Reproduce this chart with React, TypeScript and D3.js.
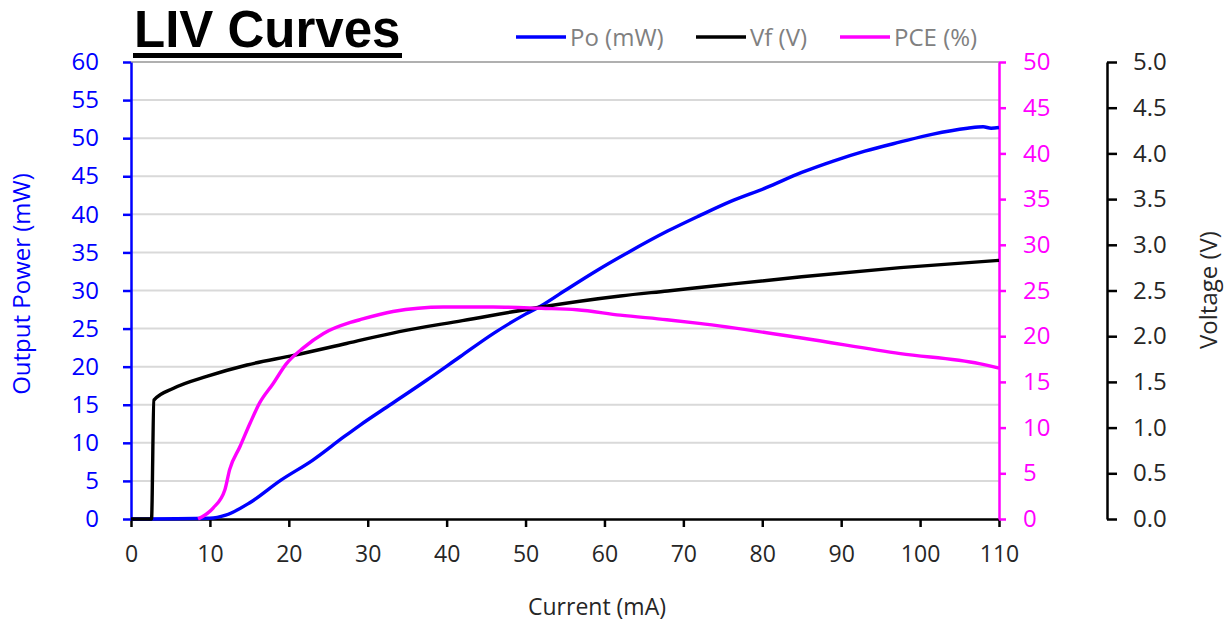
import { useEffect, useRef } from 'react';
import * as d3 from 'd3';

// Po (mW) vs current (mA)
const poCurrent = [0, 10, 12, 15, 19, 23, 27, 29, 33, 37.5, 41.7, 46, 50, 52, 55, 59, 63, 68, 72, 76, 80.5, 85, 89, 93, 97.5, 101.5, 106, 108, 109, 110];
const poValues = [0, 0.1, 0.5, 2.1, 5.1, 7.7, 10.8, 12.3, 15.1, 18.25, 21.3, 24.4, 26.9, 28.0, 30.0, 32.6, 35.0, 37.8, 39.8, 41.7, 43.5, 45.5, 47.0, 48.3, 49.5, 50.5, 51.3, 51.5, 51.3, 51.4];

// Vf (V) vs current (mA)
const vfCurrent = [0, 2.6, 2.9, 5.4, 9.6, 14.7, 20.6, 27.3, 34, 42, 52, 62, 68, 75, 85, 97.5, 110];
const vfValues = [0, 0, 1.3, 1.43, 1.56, 1.685, 1.79, 1.92, 2.05, 2.17, 2.32, 2.44, 2.495, 2.56, 2.65, 2.75, 2.83];

// PCE (%) vs current (mA)
const pceCurrent = [8.5, 10.4, 11.9, 12.5, 13.8, 15.1, 16.3, 18, 19.7, 21.8, 24.4, 27.8, 29, 33.2, 39.6, 45.9, 52, 56.5, 62, 67.9, 72, 85, 97.5, 107.5, 110];
const pceValues = [0, 1.2, 3.2, 5.4, 7.9, 10.5, 12.7, 14.8, 17, 18.7, 20.3, 21.5, 21.8, 22.7, 23.2, 23.2, 23.05, 22.9, 22.3, 21.8, 21.4, 19.8, 18.1, 17, 16.5];

const currentTicks = [0, 10, 20, 30, 40, 50, 60, 70, 80, 90, 100, 110];
const powerTicks = [0, 5, 10, 15, 20, 25, 30, 35, 40, 45, 50, 55, 60];
const pceTicks = [0, 5, 10, 15, 20, 25, 30, 35, 40, 45, 50];
const voltTicks = [0, 0.5, 1, 1.5, 2, 2.5, 3, 3.5, 4, 4.5, 5];

const legendLabels = ['Po (mW)', 'Vf (V)', 'PCE (%)'];
const legendColors = ['#0000ff', '#000000', '#ff00ff'];

const FONT = "'Open Sans', 'Liberation Sans', sans-serif";

const App = () => {
  const chartRef = useRef(null);

  useEffect(() => {
    d3.select(chartRef.current).selectAll('*').remove();

    const width = 1229;
    const height = 624;
    const plot = { left: 131, right: 999, top: 62, bottom: 519 };

    const svg = d3.select(chartRef.current)
      .append('svg')
      .attr('width', width)
      .attr('height', height)
      .style('position', 'absolute')
      .style('left', 0)
      .style('top', 0)
      .style('background', '#fff')
      .style('font-family', FONT);

    // scales
    const x = d3.scaleLinear().domain([0, 110]).range([plot.left, plot.right]);
    const yPo = d3.scaleLinear().domain([0, 60]).range([plot.bottom, plot.top]);
    const yPce = d3.scaleLinear().domain([0, 50]).range([plot.bottom, plot.top]);
    const yV = d3.scaleLinear().domain([0, 5]).range([plot.bottom, plot.top]);

    // gridlines
    svg.append('g')
      .selectAll('line')
      .data(powerTicks.filter(d => d > 0))
      .join('line')
      .attr('x1', plot.left)
      .attr('x2', plot.right)
      .attr('y1', d => yPo(d))
      .attr('y2', d => yPo(d))
      .attr('stroke', d => (d === 60 ? '#b0b0b0' : '#d9d9d9'))
      .attr('stroke-width', 2);

    // axes
    const styleAxis = (g, color, size) => {
      g.select('.domain').attr('stroke', color).attr('stroke-width', 2.5);
      g.selectAll('.tick line').attr('stroke', color).attr('stroke-width', 2.5);
      g.selectAll('.tick text')
        .attr('fill', color)
        .style('font-family', FONT)
        .style('font-size', `${size}px`);
    };

    const xAxisGroup = svg.append('g')
      .attr('transform', `translate(0, ${plot.bottom})`)
      .call(d3.axisBottom(x).tickValues(currentTicks).tickSize(8).tickSizeOuter(0).tickPadding(19));
    styleAxis(xAxisGroup, '#000', 23);
    xAxisGroup.selectAll('.tick text').attr('fill', '#262626');

    const yAxisGroup = svg.append('g')
      .attr('transform', `translate(${plot.left}, 0)`)
      .call(d3.axisLeft(yPo).tickValues(powerTicks).tickSize(8).tickSizeOuter(0).tickPadding(24));
    styleAxis(yAxisGroup, '#0000ff', 24);

    const pceAxisGroup = svg.append('g')
      .attr('transform', `translate(${plot.right}, 0)`)
      .call(d3.axisRight(yPce).tickValues(pceTicks).tickSize(7).tickSizeOuter(0).tickPadding(17));
    styleAxis(pceAxisGroup, '#ff00ff', 24);

    const vAxisGroup = svg.append('g')
      .attr('transform', `translate(1107, 0)`)
      .call(d3.axisRight(yV).tickValues(voltTicks).tickFormat(d3.format('.1f')).tickSize(10).tickSizeOuter(0).tickPadding(16));
    styleAxis(vAxisGroup, '#000', 24);
    vAxisGroup.selectAll('.tick text').attr('fill', '#262626');

    // series lines
    const drawLine = (xs, ys, yScale, color) => {
      const pts = xs.map((c, i) => [c, ys[i]]);
      const line = d3.line()
        .curve(d3.curveMonotoneX)
        .x(d => x(d[0]))
        .y(d => yScale(d[1]));
      svg.append('path')
        .datum(pts)
        .attr('fill', 'none')
        .attr('stroke', color)
        .attr('stroke-width', 3.4)
        .attr('stroke-linejoin', 'round')
        .attr('d', line);
    };
    drawLine(poCurrent, poValues, yPo, legendColors[0]);
    drawLine(vfCurrent, vfValues, yV, legendColors[1]);
    drawLine(pceCurrent, pceValues, yPce, legendColors[2]);

    // axis titles
    svg.append('text')
      .attr('transform', 'translate(30, 284) rotate(-90)')
      .attr('text-anchor', 'middle')
      .attr('fill', '#0000ff')
      .style('font-size', '24px')
      .text('Output Power (mW)');
    svg.append('text')
      .attr('x', 597)
      .attr('y', 615)
      .attr('text-anchor', 'middle')
      .attr('fill', '#262626')
      .style('font-size', '23px')
      .text('Current (mA)');
    svg.append('text')
      .attr('transform', 'translate(1217, 290) rotate(-90)')
      .attr('text-anchor', 'middle')
      .attr('fill', '#262626')
      .style('font-size', '24px')
      .text('Voltage (V)');

    // title
    svg.append('text')
      .attr('x', 134)
      .attr('y', 47)
      .attr('fill', '#000')
      .style('font-family', "'Liberation Sans', Arial, sans-serif")
      .style('font-weight', 'bold')
      .style('font-size', '51px')
      .text('LIV Curves');
    svg.append('rect')
      .attr('x', 133)
      .attr('y', 53)
      .attr('width', 269)
      .attr('height', 5)
      .attr('fill', '#000');

    // legend
    const legendX = [516, 696, 840];
    const legend = svg.append('g');
    legendLabels.forEach((label, i) => {
      legend.append('line')
        .attr('x1', legendX[i])
        .attr('x2', legendX[i] + 50)
        .attr('y1', 37)
        .attr('y2', 37)
        .attr('stroke', legendColors[i])
        .attr('stroke-width', 3.4);
      legend.append('text')
        .attr('x', legendX[i] + 54)
        .attr('y', 46)
        .attr('fill', '#808080')
        .style('font-size', '24px')
        .text(label);
    });
  }, []);

  return (
    <div className='liv-chart' ref={chartRef}></div>
  );
};

export default App;
